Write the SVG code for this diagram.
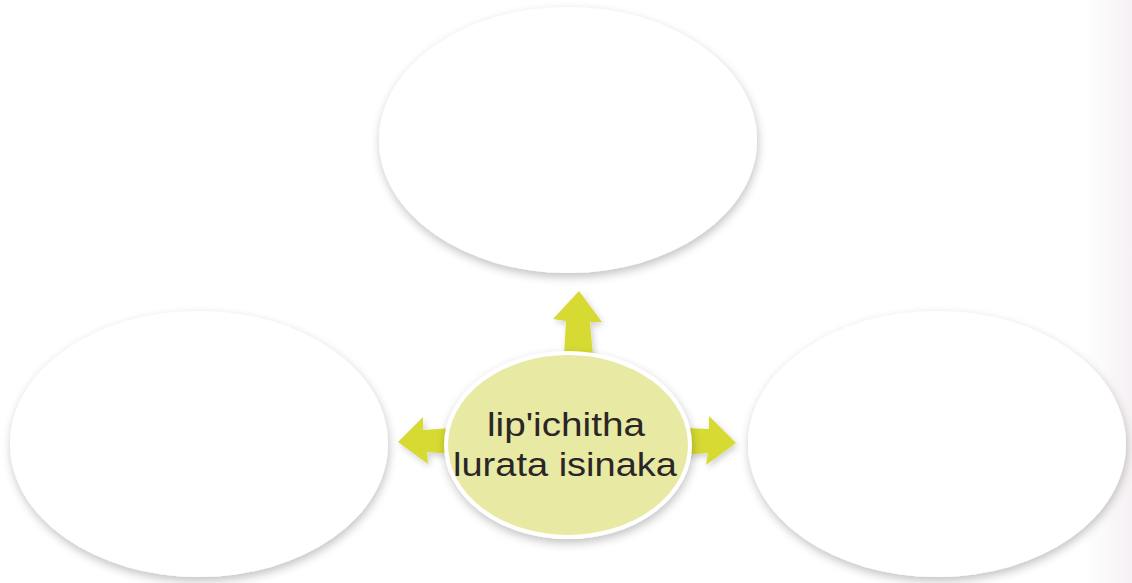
<svg xmlns="http://www.w3.org/2000/svg" width="1132" height="583" viewBox="0 0 1132 583">
<defs>
<filter id="sh" x="-20%" y="-20%" width="140%" height="150%">
<feDropShadow dx="1" dy="4" stdDeviation="5" flood-color="#000" flood-opacity="0.24"/>
</filter>
<filter id="ash" x="-30%" y="-30%" width="160%" height="160%">
<feDropShadow dx="2" dy="3" stdDeviation="3" flood-color="#000" flood-opacity="0.18"/>
</filter>
<linearGradient id="edge" x1="0" y1="0" x2="1" y2="0">
<stop offset="0" stop-color="#ffffff"/>
<stop offset="1" stop-color="#f6f1f4"/>
</linearGradient>
<style>
.bub{fill:#ffffff;filter:url(#sh)}
.arr{fill:#d6da33;filter:url(#ash)}
.lbl{font-family:"Liberation Sans",Arial,sans-serif;font-size:34px;fill:#2a2627}
</style>
</defs>
<rect width="1132" height="583" fill="#ffffff"/>
<rect x="1085" y="0" width="47" height="583" fill="url(#edge)"/>
<g id="node-top"><ellipse class="bub" cx="568" cy="140" rx="189" ry="133"/></g>
<g id="node-left"><ellipse class="bub" cx="199" cy="444" rx="189" ry="133"/></g>
<g id="node-right"><ellipse class="bub" cx="937" cy="444" rx="189" ry="133"/></g>
<g id="connectors">
<polygon class="arr" points="564,356 566,321 553,319 579,291 602,322 590,322 593,356"/>
<polygon class="arr" points="686,428 709,429 709,416 736,443 706,465 708,453 686,455"/>
<polygon class="arr" points="452,428 423,430 423,417 398,442 428,464 427,452 452,454"/>
</g>
<g id="node-center">
<ellipse cx="568" cy="445" rx="122" ry="92" fill="#e8e9a3" stroke="#ffffff" stroke-width="4" filter="url(#sh)"/>
<text class="lbl" x="566" y="436" text-anchor="middle" textLength="158" lengthAdjust="spacingAndGlyphs">lip'ichitha</text>
<text class="lbl" x="565" y="476" text-anchor="middle" textLength="224" lengthAdjust="spacingAndGlyphs">lurata isinaka</text>
</g>
</svg>
